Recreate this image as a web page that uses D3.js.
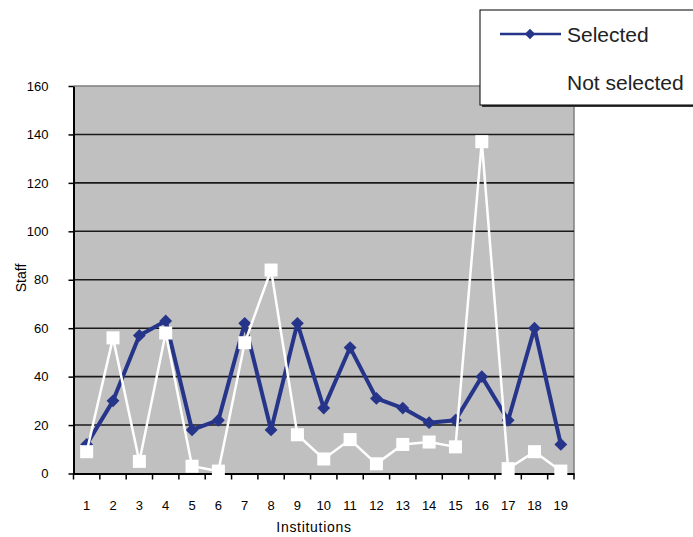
<!DOCTYPE html>
<html><head><meta charset="utf-8">
<script src="https://cdn.jsdelivr.net/npm/d3@7/dist/d3.min.js"></script>
<style>body{margin:0;background:#fff;}svg{display:block;font-family:"Liberation Sans",Arial,sans-serif;}</style>
</head><body><svg id="c" width="693" height="537"></svg>
<script>
const institutions = ["1","2","3","4","5","6","7","8","9","10","11","12","13","14","15","16","17","18","19"];
const selected =    [12,30,57,63,18,22,62,18,62,27,52,31,27,21,22,40,22,60,12];
const notSelected = [9,56,5,58,3,1,54,84,16,6,14,4,12,13,11,137,2,9,1];
const yTicks = [0,20,40,60,80,100,120,140,160];
const seriesNames = ["Selected","Not selected"];

const svg = d3.select("#c");
const L=73.5, R=574, T=86, B=473.5;
const x = d3.scaleBand().domain(institutions).range([L,R]).padding(0);
const y = d3.scaleLinear().domain([0,160]).range([B,T]);

svg.append("rect").attr("x",L).attr("y",T).attr("width",R-L).attr("height",B-T).attr("fill","#c0c0c0");
svg.append("path").attr("d",`M${L},${T}H${R}V${B}`).attr("fill","none").attr("stroke","#808080").attr("stroke-width",1.5);
svg.append("g").selectAll("line").data(yTicks.filter(d=>d>0&&d<160)).join("line")
  .attr("x1",L).attr("x2",R).attr("y1",d=>y(d)).attr("y2",d=>y(d))
  .attr("stroke","#1a1a1a").attr("stroke-width",1.6);

const ya = svg.append("g").attr("transform",`translate(${L},0)`)
  .call(d3.axisLeft(y).tickValues(yTicks).tickSize(5).tickPadding(20).tickSizeOuter(0));
ya.select(".domain").attr("stroke","#000").attr("stroke-width",2);
ya.selectAll(".tick line").attr("stroke","#000").attr("stroke-width",1.5);
ya.selectAll("text").attr("font-size",13).attr("fill","#000").attr("font-family","Liberation Sans, Arial, sans-serif");

const xa = svg.append("g").attr("transform",`translate(0,${B})`)
  .call(d3.axisBottom(x).tickSize(0).tickPadding(27));
xa.select(".domain").attr("stroke","#000").attr("stroke-width",2);
xa.selectAll("text").attr("font-size",13).attr("fill","#000").attr("font-family","Liberation Sans, Arial, sans-serif");
const bounds = institutions.map(d=>x(d)).concat([x(institutions[institutions.length-1])+x.bandwidth()]);
svg.append("g").selectAll("line").data(bounds).join("line")
  .attr("x1",d=>d).attr("x2",d=>d).attr("y1",B).attr("y2",B+6)
  .attr("stroke","#000").attr("stroke-width",1.5);

const cx = d=>x(d)+x.bandwidth()/2;
const line = d3.line().x(d=>cx(d[0])).y(d=>y(d[1]));

const selData = institutions.map((d,i)=>[d,selected[i]]);
svg.append("path").datum(selData).attr("d",line).attr("fill","none").attr("stroke","#26358a").attr("stroke-width",4).attr("stroke-linejoin","round");
svg.append("g").selectAll("path").data(selData).join("path")
  .attr("d",d3.symbol(d3.symbolDiamond2,105))
  .attr("transform",d=>`translate(${cx(d[0])},${y(d[1])})`).attr("fill","#26358a");

const nsData = institutions.map((d,i)=>[d,notSelected[i]]);
svg.append("path").datum(nsData).attr("d",line).attr("fill","none").attr("stroke","#fff").attr("stroke-width",2.5);
svg.append("g").selectAll("rect").data(nsData).join("rect")
  .attr("x",d=>cx(d[0])-6.5).attr("y",d=>y(d[1])-6.5).attr("width",13).attr("height",13).attr("fill","#fff");

svg.append("text").attr("x",314).attr("y",532).attr("text-anchor","middle").attr("font-size",14).attr("letter-spacing",0.7).text("Institutions");
svg.append("text").attr("transform","translate(26,278) rotate(-90)").attr("text-anchor","middle").attr("font-size",14).text("Staff");

const lg = svg.append("g");
lg.append("rect").attr("x",482).attr("y",12).attr("width",220).attr("height",95).attr("fill","#333");
lg.append("rect").attr("x",480).attr("y",10).attr("width",220).attr("height",95).attr("fill","#fff").attr("stroke","#000").attr("stroke-width",1);
lg.append("line").attr("x1",500).attr("x2",561).attr("y1",34).attr("y2",34).attr("stroke","#26358a").attr("stroke-width",2.5);
lg.append("path").attr("d",d3.symbol(d3.symbolDiamond2,70)).attr("transform","translate(530,34)").attr("fill","#26358a");
lg.selectAll("text.l").data(seriesNames).join("text").attr("class","l")
  .attr("x",567).attr("y",(d,i)=>34+i*48).attr("dy","0.36em").attr("font-size",21).attr("fill","#222").text(d=>d);
</script></body></html>
